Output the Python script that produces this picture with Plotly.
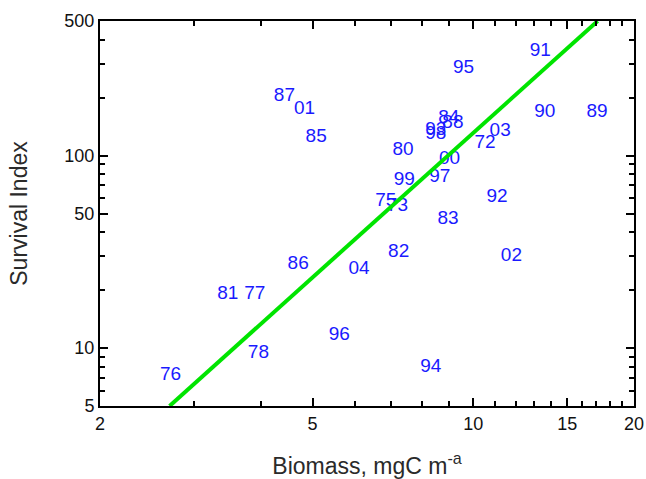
import plotly.graph_objects as go

# 年份标签与对应的生物量、存活指数
years = ["76", "78", "81", "77", "86", "96", "04", "82", "94", "83", "02", "92",
         "75", "73", "99", "97", "80", "00", "72", "03", "90", "89", "91", "95",
         "87", "01", "85", "84", "88", "93", "98"]
biomass = [2.71, 3.96, 3.47, 3.90, 4.70, 5.61, 6.11, 7.25, 8.33, 8.97, 11.79, 11.08,
           6.86, 7.21, 7.43, 8.66, 7.39, 9.03, 10.52, 11.23, 13.61, 17.05, 13.35, 9.59,
           4.43, 4.83, 5.08, 9.0, 9.16, 8.51, 8.51]
survival = [7.2, 9.36, 19.0, 19.0, 27.2, 11.6, 25.8, 31.3, 7.97, 46.5, 30.1, 61.0,
            58.1, 54.7, 74.1, 77.4, 106.5, 96.0, 116, 134, 168, 168, 349, 285,
            203, 175, 125, 156, 147, 135, 129]

# 回归线端点
fit_x = [2.7, 17.1]
fit_y = [5, 500]

x_major = [2, 5, 10, 15, 20]
x_minor = [3, 4, 6, 7, 8, 9, 11, 12, 13, 14, 16, 17, 18, 19]
y_major = [5, 10, 50, 100, 500]
y_minor = [6, 7, 8, 9, 20, 30, 40, 60, 70, 80, 90, 200, 300, 400]

font_name = "Liberation Sans, Arial"

fig = go.Figure()
# 先画年份文字，再画回归线（线压在文字上）
fig.add_trace(go.Scatter(x=biomass, y=survival, mode="text", text=years,
                         textfont=dict(color="#1a1aff", size=19, family=font_name)))
fig.add_trace(go.Scatter(x=fit_x, y=fit_y, mode="lines",
                         line=dict(color="#00e400", width=4), hoverinfo="skip"))

axis_common = dict(type="log", showgrid=False, zeroline=False, showline=True,
                   linecolor="black", linewidth=2, mirror="allticks", automargin=False,
                   ticks="inside", ticklen=8, tickwidth=1.5, tickcolor="black",
                   tickfont=dict(size=18, color="#111", family=font_name))

fig.update_layout(
    width=646, height=479,
    margin=dict(l=100, r=12, t=21, b=73),
    paper_bgcolor="white", plot_bgcolor="white",
    showlegend=False,
    xaxis=dict(axis_common, range=[0.30103, 1.30103], tickmode="array",
               tickvals=x_major, ticktext=[str(v) for v in x_major],
               minor=dict(ticks="inside", ticklen=5, tickcolor="black",
                          tickmode="array", tickvals=x_minor),
               title=dict(text="Biomass, mgC m<sup>-a</sup>", standoff=28,
                          font=dict(size=23, color="#2a2a2a", family=font_name))),
    yaxis=dict(axis_common, range=[0.69897, 2.69897], tickmode="array",
               tickvals=y_major, ticktext=[str(v) for v in y_major],
               minor=dict(ticks="inside", ticklen=5, tickcolor="black",
                          tickmode="array", tickvals=y_minor),
               title=dict(text="Survival Index", standoff=30,
                          font=dict(size=23, color="#2a2a2a", family=font_name))),
)

# 去掉页面默认边距，避免图被挤出窗口
fig.write_html("out.html", config={"displayModeBar": False},
               post_script="document.body.style.margin='0';")
